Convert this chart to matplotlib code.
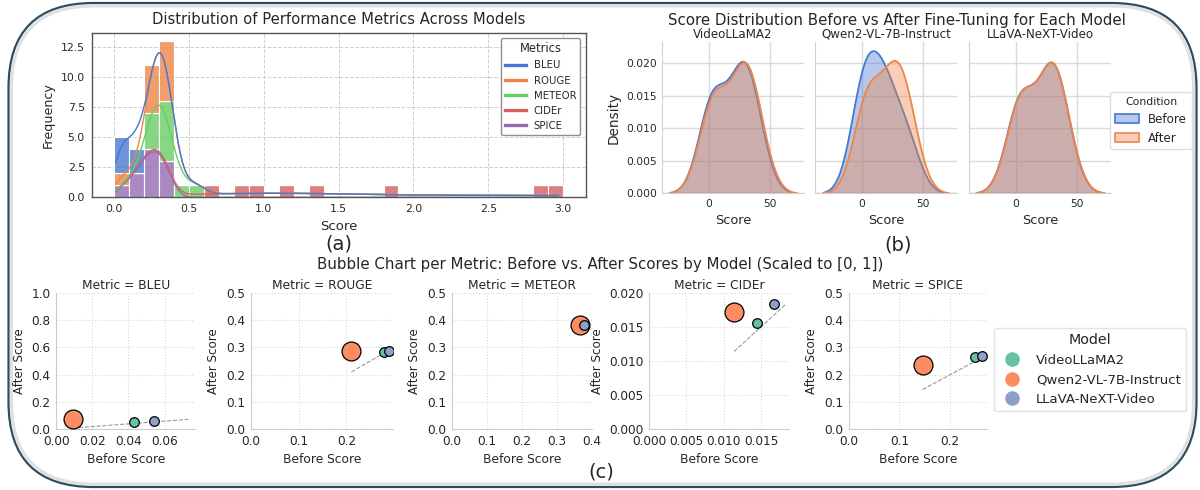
import numpy as np
import pandas as pd
import matplotlib
matplotlib.use("Agg")
import matplotlib.pyplot as plt
import seaborn as sns
from matplotlib.patches import FancyBboxPatch, Patch
from matplotlib.lines import Line2D
from matplotlib.ticker import MultipleLocator
from matplotlib.colors import to_rgba

# ---------------- data ----------------
metrics = ["BLEU", "ROUGE", "METEOR", "CIDEr", "SPICE"]
models = ["VideoLLaMA2", "Qwen2-VL-7B-Instruct", "LLaVA-NeXT-Video"]
conditions = ["Before", "After"]

# panel (a): raw metric scores
bleu_scores = [0.01, 0.05, 0.08, 0.12, 0.16]
rouge_scores = [0.05, 0.22, 0.25, 0.27, 0.29, 0.31, 0.33, 0.35, 0.36, 0.38]
meteor_scores = [0.23, 0.26, 0.28, 0.31, 0.32, 0.34, 0.37, 0.39, 0.45, 0.55]
cider_scores = [0.65, 0.84, 0.93, 1.15, 1.34, 1.86, 2.84, 2.97]
spice_scores = [0.07, 0.14, 0.18, 0.21, 0.24, 0.26, 0.28, 0.31, 0.33, 0.36]

# panels (b) and (c): scores per model (order of `metrics`), 0-100 scale
videollama_before = [4.3, 27.85, 37.0, 1.44, 24.9]
videollama_after = [5.6, 28.4, 38.0, 1.55, 26.6]
qwen_before = [0.93, 21.05, 36.7, 1.14, 14.56]
qwen_after = [7.3, 28.8, 38.1, 1.715, 23.54]
llava_before = [5.4, 28.8, 37.9, 1.67, 26.17]
llava_after = [5.8, 28.55, 38.3, 1.828, 26.8]

before_scores = [videollama_before, qwen_before, llava_before]
after_scores = [videollama_after, qwen_after, llava_after]

# ---------------- styles ----------------
muted = ["#4878d0", "#ee854a", "#6acc64", "#d65f5f", "#956cb4"]
cond_colors = ["#4878d0", "#ee854a"]
set2 = ["#66c2a5", "#fc8d62", "#8da0cb"]
bubble_sizes = [48, 185, 48]
TXT = "#262626"
plt.rcParams["font.family"] = ["DejaVu Sans"]
plt.rcParams["text.color"] = TXT
plt.rcParams["axes.labelcolor"] = TXT
plt.rcParams["xtick.color"] = TXT
plt.rcParams["ytick.color"] = TXT

W, H = 1200, 490
fig = plt.figure(figsize=(12, 4.9), dpi=100)


def rect(l, t, r, b):
    return [l / W, 1 - b / H, (r - l) / W, (b - t) / H]


# background frame
bg = fig.add_axes([0, 0, 1, 1], zorder=-10)
bg.set_xlim(0, W)
bg.set_ylim(H, 0)
bg.axis("off")
bg.add_patch(FancyBboxPatch((8.5, 3), 1188, 484, boxstyle="round,pad=0,rounding_size=85",
                            fc="white", ec="#2c4f60", lw=1.6))
bg.add_patch(FancyBboxPatch((11.5, 6), 1182, 478, boxstyle="round,pad=0,rounding_size=82",
                            fc="none", ec="#d4d4d4", lw=2.2, alpha=0.7))

# ---------------- panel (a) ----------------
score_lists = [bleu_scores, rouge_scores, meteor_scores, cider_scores, spice_scores]
dfa = pd.DataFrame({
    "Score": [v for lst in score_lists for v in lst],
    "Metrics": [m for m, lst in zip(metrics, score_lists) for _ in lst],
})
axa = fig.add_axes(rect(91.8, 33.3, 585.5, 197.3))
sns.histplot(data=dfa, x="Score", hue="Metrics", hue_order=metrics, multiple="stack",
             binwidth=0.1, binrange=(0, 3), kde=True, palette=muted, alpha=0.8,
             edgecolor="white", linewidth=0.8, line_kws=dict(linewidth=1.0),
             ax=axa, legend=False)
axa.set_axisbelow(True)
axa.grid(True, ls="--", color="#cfcfcf", lw=0.7)
for s in axa.spines.values():
    s.set_color("#555555")
    s.set_linewidth(1.0)
axa.tick_params(length=0, pad=5, labelsize=7.8)
axa.set_xticks([0, 0.5, 1.0, 1.5, 2.0, 2.5, 3.0])
axa.yaxis.set_major_locator(MultipleLocator(2.5))
axa.set_title("Distribution of Performance Metrics Across Models", fontsize=10.6, pad=7)
axa.set_xlabel("Score", fontsize=9.5)
axa.set_ylabel("Frequency", fontsize=9.1)
leg_a = axa.legend(handles=[Line2D([], [], color=c, lw=2.4) for c in muted], labels=metrics,
                   title="Metrics", loc="upper right", fontsize=7.3, title_fontsize=8.3,
                   framealpha=0.95, edgecolor="#888888")
fig.text(338.7 / W, 1 - 244 / H, "(a)", fontsize=14, ha="center", va="center")

# ---------------- panel (b) ----------------
b_lefts = [662.4, 815.4, 969.3]
b_axes = []
for i, model in enumerate(models):
    ax = fig.add_axes(rect(b_lefts[i], 41.8, b_lefts[i] + 141.6, 193.3),
                      sharex=b_axes[0] if b_axes else None)
    b_axes.append(ax)
    for j, vals in enumerate([before_scores[i], after_scores[i]]):
        sns.kdeplot(x=vals, fill=True, color=cond_colors[j], alpha=0.4, linewidth=1.3, ax=ax)
    ax.set_ylim(0, 0.0233)
    ax.set_axisbelow(True)
    ax.grid(True, color="#dadada", lw=1.0)
    for side in ["top", "right"]:
        ax.spines[side].set_visible(False)
    for side in ["left", "bottom"]:
        ax.spines[side].set_color("#d0d0d0")
    ax.tick_params(length=0, pad=4, labelsize=7.7)
    ax.set_xticks([0, 50])
    ax.set_yticks([0, 0.005, 0.010, 0.015, 0.020])
    ax.set_title(model, fontsize=8.6, pad=3)
    ax.set_xlabel("Score", fontsize=9.3)
    if i == 0:
        ax.set_ylabel("Density", fontsize=9.8)
    else:
        ax.set_ylabel("")
        ax.tick_params(labelleft=False)
fig.text(896.6 / W, 1 - 20 / H, "Score Distribution Before vs After Fine-Tuning for Each Model",
         fontsize=10.8, ha="center", va="center")
fig.legend(handles=[Patch(facecolor=to_rgba(c, 0.4), edgecolor=c, lw=1.2) for c in cond_colors],
           labels=conditions, title="Condition", loc="upper left",
           bbox_to_anchor=(1110 / W, 1 - 92 / H), borderaxespad=0, fontsize=8.6,
           title_fontsize=7.8, edgecolor="#dddddd", framealpha=1)
fig.text(898.5 / W, 1 - 245 / H, "(b)", fontsize=14, ha="center", va="center")

# ---------------- panel (c) ----------------
c_lefts = [56.3, 250.7, 451.7, 649, 848.7]
c_rights = [195.2, 393.4, 591.7, 789.4, 987.3]
c_xmax = [0.077, 0.298, 0.40, 0.0188, 0.273]
c_ymax = [1.0, 0.5, 0.5, 0.02, 0.5]
c_xstep = [0.02, 0.1, 0.1, 0.005, 0.1]
c_ystep = [0.2, 0.1, 0.1, 0.005, 0.1]
for k, metric in enumerate(metrics):
    ax = fig.add_axes(rect(c_lefts[k], 292.7, c_rights[k], 429.3))
    bvals = [before_scores[i][k] / 100 for i in range(len(models))]
    avals = [after_scores[i][k] / 100 for i in range(len(models))]
    lo = min(bvals + avals)
    hi = max(bvals + avals)
    ax.plot([lo, hi], [lo, hi], ls="--", color="#999999", lw=0.8, zorder=1)
    for i in range(len(models)):
        ax.scatter([bvals[i]], [avals[i]], s=bubble_sizes[i], color=set2[i],
                   edgecolor="black", linewidth=0.9, zorder=2 + i)
    ax.set_xlim(0, c_xmax[k])
    ax.set_ylim(0, c_ymax[k])
    ax.xaxis.set_major_locator(MultipleLocator(c_xstep[k]))
    ax.yaxis.set_major_locator(MultipleLocator(c_ystep[k]))
    ax.set_axisbelow(True)
    ax.grid(True, ls=":", color="#d8d8d8", lw=0.8)
    for side in ["top", "right"]:
        ax.spines[side].set_visible(False)
    for side in ["left", "bottom"]:
        ax.spines[side].set_color("#cccccc")
    ax.tick_params(length=0, pad=4, labelsize=8.7)
    ax.set_title(f"Metric = {metric}", fontsize=8.8, pad=3)
    ax.set_xlabel("Before Score", fontsize=8.8)
    ax.set_ylabel("After Score", fontsize=8.6)
fig.text(600 / W, 1 - 264 / H,
         "Bubble Chart per Metric: Before vs. After Scores by Model (Scaled to [0, 1])",
         fontsize=10.8, ha="center", va="center")
fig.legend(handles=[Line2D([], [], marker="o", ls="", markerfacecolor=c, markeredgecolor="none",
                           markersize=10.5) for c in set2],
           labels=models, title="Model", loc="upper left",
           bbox_to_anchor=(994 / W, 1 - 328 / H), borderaxespad=0, fontsize=9.5,
           title_fontsize=10.3, edgecolor="#e3e3e3", framealpha=1)
fig.text(601 / W, 1 - 472 / H, "(c)", fontsize=14, ha="center", va="center")

fig.savefig("out.png", dpi=100)
